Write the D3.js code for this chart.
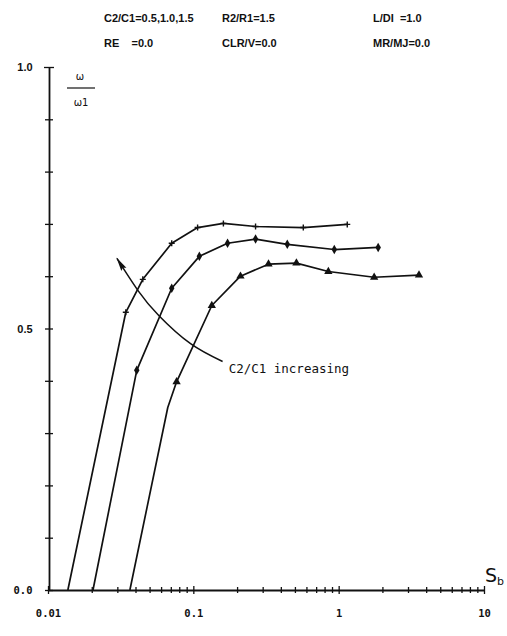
<!DOCTYPE html>
<html>
<head>
<meta charset="utf-8">
<script src="https://cdn.jsdelivr.net/npm/d3@7"></script>
<style>
  html, body { margin: 0; padding: 0; background: #fff; }
  svg { display: block; }
</style>
</head>
<body>
<svg id="chart" width="507" height="636"></svg>
<script>
// ---- data ----
const seriesNames = ["C2/C1=0.5", "C2/C1=1.0", "C2/C1=1.5"];
// curve 1 (crosses)
const s1x = [0.0137, 0.0343, 0.0449, 0.0710, 0.107, 0.161, 0.268, 0.571, 1.146];
const s1y = [0.000, 0.531, 0.594, 0.663, 0.693, 0.701, 0.695, 0.693, 0.699];
const s1m = [0, 1, 1, 1, 1, 1, 1, 1, 1];
// curve 2 (diamonds)
const s2x = [0.0204, 0.0408, 0.0710, 0.110, 0.172, 0.268, 0.443, 0.933, 1.87];
const s2y = [0.000, 0.420, 0.577, 0.638, 0.663, 0.671, 0.661, 0.651, 0.655];
const s2m = [0, 1, 1, 1, 1, 1, 1, 1, 1];
// curve 3 (triangles)
const s3x = [0.0366, 0.0667, 0.0767, 0.134, 0.211, 0.329, 0.512, 0.849, 1.755, 3.57];
const s3y = [0.000, 0.349, 0.398, 0.544, 0.600, 0.623, 0.625, 0.609, 0.598, 0.602];
const s3m = [0, 0, 1, 1, 1, 1, 1, 1, 1, 1];
// annotation arrow path (data coords), from tail to head
const arrowX = [0.159, 0.0957, 0.0578, 0.0415, 0.0298];
const arrowY = [0.437, 0.471, 0.525, 0.573, 0.634];
const annotationText = "C2/C1 increasing";
const annotationAt = [0.175, 0.415];
// header parameters
const headerRow1 = ["C2/C1=0.5,1.0,1.5", "R2/R1=1.5", "L/DI\u00a0\u00a0=1.0"];
const headerRow2 = ["RE\u00a0\u00a0\u00a0\u00a0=0.0", "CLR/V=0.0", "MR/MJ=0.0"];
// ticks
const yTicks = [0, 0.1, 0.2, 0.3, 0.4, 0.5, 0.6, 0.7, 0.8, 0.9, 1.0];
const yTickLabels = { "0": "0.0", "0.5": "0.5", "1": "1.0" };
const xMajor = [0.01, 0.1, 1, 10];
const xMajorLabels = ["0.01", "0.1", "1", "10"];

// ---- drawing ----
const svg = d3.select("#chart");
const x = d3.scaleLog().domain([0.01, 10]).range([48, 484]);
const y = d3.scaleLinear().domain([0, 1]).range([590, 67]);

// header
const hx = [104, 222, 373];
const hy = [22, 47];
[headerRow1, headerRow2].forEach((row, r) => {
  row.forEach((t, i) => {
    svg.append("text")
      .attr("x", hx[i]).attr("y", hy[r])
      .attr("font-family", "'Liberation Sans Narrow', 'Liberation Sans', sans-serif")
      .attr("font-weight", "bold")
      .attr("font-size", 11)
      .attr("fill", "#111")
      .text(t);
  });
});

// x minor ticks
const xTicks = [];
for (let d = -2; d < 1; d++) {
  for (let k = 1; k < 10; k++) xTicks.push(k * Math.pow(10, d));
}
xTicks.push(10);
const isMajor = d => xMajor.some(v => Math.abs(v - d) / v < 1e-6);

const xAxis = d3.axisBottom(x)
  .tickValues(xTicks)
  .tickSizeOuter(0)
  .tickFormat(d => {
    const i = xMajor.findIndex(v => Math.abs(v - d) / v < 1e-6);
    return i >= 0 ? xMajorLabels[i] : "";
  });
const gx = svg.append("g").attr("transform", `translate(0,${y(0)})`).call(xAxis);
gx.select(".domain").attr("stroke", "#111").attr("stroke-width", 1.8);
gx.selectAll(".tick line")
  .attr("stroke", "#111").attr("stroke-width", 1.3)
  .attr("y1", d => (isMajor(d) ? -4 : -3))
  .attr("y2", d => (isMajor(d) ? 4 : 3));
gx.selectAll(".tick text")
  .attr("y", 24)
  .attr("dy", "0.32em")
  .attr("font-family", "'DejaVu Sans Mono', monospace")
  .attr("font-weight", "bold")
  .attr("font-size", 10.5)
  .attr("fill", "#111");

// y axis
const yAxis = d3.axisLeft(y)
  .tickValues(yTicks)
  .tickSizeOuter(0)
  .tickFormat(d => yTickLabels[String(+d.toFixed(1))] || "");
const gy = svg.append("g").attr("transform", `translate(${x(0.01) + 1},0)`).call(yAxis);
gy.select(".domain").attr("stroke", "#111").attr("stroke-width", 1.8);
gy.selectAll(".tick line")
  .attr("stroke", "#111").attr("stroke-width", 1.3)
  .attr("x1", d => (d === 1 ? -5 : -4))
  .attr("x2", d => (d === 1 ? 5 : 4));
gy.selectAll(".tick text")
  .attr("x", -24)
  .attr("text-anchor", "middle")
  .attr("font-family", d => (d === 0 ? "'DejaVu Sans Mono', monospace" : "'Liberation Sans', sans-serif"))
  .attr("font-weight", "bold")
  .attr("font-size", d => (d === 0 ? 10.5 : 11))
  .attr("fill", "#111");
gy.selectAll(".tick").filter(d => d === 0).select("text").attr("x", -26);

// y-axis label (omega / omega1)
svg.append("text").attr("x", 80).attr("y", 80).attr("text-anchor", "middle")
  .attr("font-family", "'DejaVu Sans', sans-serif").attr("font-size", 10).attr("fill", "#111").text("ω");
svg.append("line").attr("x1", 67).attr("x2", 95).attr("y1", 88).attr("y2", 88)
  .attr("stroke", "#111").attr("stroke-width", 1.2);
svg.append("text").attr("x", 81).attr("y", 106).attr("text-anchor", "middle")
  .attr("font-family", "'DejaVu Sans', sans-serif").attr("font-size", 10).attr("fill", "#111").text("ω1");

// x-axis label S_b
const sb = svg.append("text").attr("x", 485).attr("y", 582)
  .attr("font-family", "'DejaVu Sans', sans-serif").attr("fill", "#111");
sb.append("tspan").attr("font-size", 19).text("S");
sb.append("tspan").attr("font-size", 11).attr("dy", 3).text("b");

// curves
const series = [
  { xs: s1x, ys: s1y, ms: s1m, marker: "cross" },
  { xs: s2x, ys: s2y, ms: s2m, marker: "diamond" },
  { xs: s3x, ys: s3y, ms: s3m, marker: "triangle" }
];
const line = d3.line().x(d => x(d[0])).y(d => y(d[1]));
series.forEach((s) => {
  const pts = s.xs.map((v, i) => [v, s.ys[i], s.ms[i]]);
  svg.append("path").datum(pts)
    .attr("d", line)
    .attr("fill", "none")
    .attr("stroke", "#111")
    .attr("stroke-width", 1.7)
    .attr("stroke-linejoin", "round");
  const g = svg.append("g");
  pts.filter(p => p[2]).forEach(p => {
    const cx = x(p[0]), cy = y(p[1]);
    if (s.marker === "cross") {
      g.append("path")
        .attr("d", `M${cx - 3},${cy}L${cx + 3},${cy}M${cx},${cy - 3}L${cx},${cy + 3}`)
        .attr("stroke", "#111").attr("stroke-width", 1.4);
    } else if (s.marker === "diamond") {
      g.append("path")
        .attr("d", d3.symbol().type(d3.symbolDiamond).size(26)())
        .attr("transform", `translate(${cx},${cy})`)
        .attr("fill", "#111");
    } else {
      g.append("path")
        .attr("d", d3.symbol().type(d3.symbolTriangle).size(30)())
        .attr("transform", `translate(${cx},${cy})`)
        .attr("fill", "#111");
    }
  });
});

// annotation arrow
svg.append("defs").append("marker")
  .attr("id", "arrowhead")
  .attr("viewBox", "0 0 14 7")
  .attr("refX", 13).attr("refY", 3.5)
  .attr("markerWidth", 14).attr("markerHeight", 7)
  .attr("markerUnits", "userSpaceOnUse")
  .attr("orient", "auto")
  .append("path").attr("d", "M0,0.5L14,3.5L0,6.5L2,3.5Z").attr("fill", "#111");

const arrowPts = arrowX.map((v, i) => [v, arrowY[i]]);
svg.append("path").datum(arrowPts)
  .attr("d", d3.line().x(d => x(d[0])).y(d => y(d[1])).curve(d3.curveNatural))
  .attr("fill", "none")
  .attr("stroke", "#111")
  .attr("stroke-width", 1.5)
  .attr("marker-end", "url(#arrowhead)");

svg.append("text")
  .attr("x", x(annotationAt[0])).attr("y", y(annotationAt[1]))
  .attr("font-family", "'DejaVu Sans Mono', monospace")
  .attr("font-size", 12.5)
  .attr("fill", "#111")
  .text(annotationText);
</script>
</body>
</html>
